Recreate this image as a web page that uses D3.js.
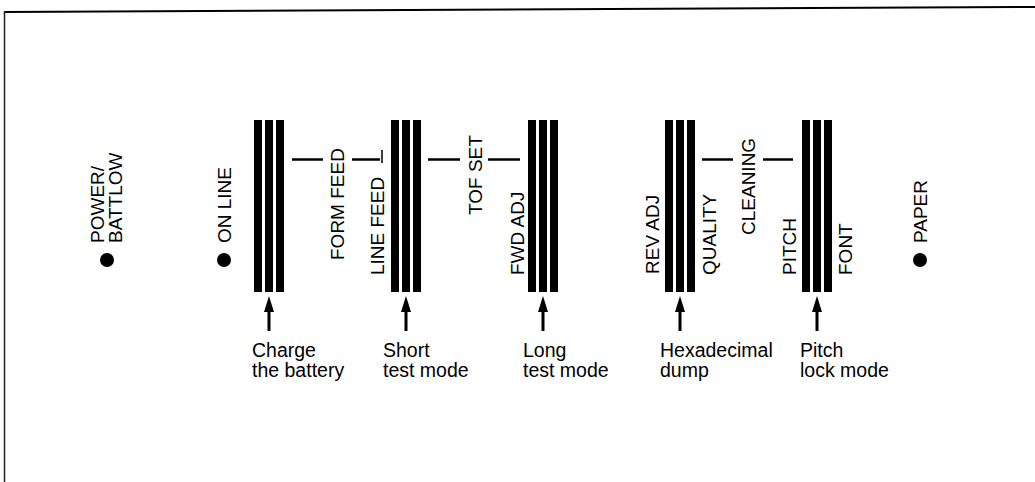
<!DOCTYPE html>
<html>
<head>
<meta charset="utf-8">
<script src="https://cdn.jsdelivr.net/npm/d3@7"></script>
<style>
  html, body { margin: 0; padding: 0; background: #fff; }
  svg { display: block; }
  text { font-family: "Liberation Sans", Arial, Helvetica, sans-serif; fill: #000; }
</style>
</head>
<body>
<svg id="chart" width="1035" height="482"></svg>
<script>
// ---- content ----
const indicatorLabels = [["POWER/", "BATTLOW"], ["ON LINE"], ["PAPER"]];
const switchGroups = ["g1", "g2", "g3", "g4", "g5"];
const functionLabels = ["FORM FEED", "LINE FEED", "TOF SET", "FWD ADJ", "REV ADJ", "QUALITY", "CLEANING", "PITCH", "FONT"];
const modeCaptions = [
  ["Charge", "the battery"],
  ["Short", "test mode"],
  ["Long", "test mode"],
  ["Hexadecimal", "dump"],
  ["Pitch", "lock mode"]
];
const barsPerGroup = [0, 1, 2];

// ---- layout (pixels) ----
const groupLeft = [254, 391, 528, 665, 802];
const indicatorX = [[97, 115], [224], [920]];
const indicatorDotX = [107, 224, 920];
const labelCX = [337, 377, 475, 517, 652, 709, 748, 789, 845];
const labelBottom = [260, 275, 215, 275, 274, 275, 235, 275, 275];
const dashes = [[292, 323], [352, 380], [428, 460], [488, 520], [702, 733], [763, 793]];
const captionX = [252, 383, 523, 660, 800];
const captionY = [357, 377];

const svg = d3.select("#chart");
const barW = 8, barGap = 3, barTop = 120, barBottom = 292;
const xBar = d3.scaleLinear().domain([0, 1]).range([0, barW + barGap]);
const fsV = 19, fsH = 19.5;

// frame
svg.append("line").attr("x1", 4).attr("y1", 12).attr("x2", 1035).attr("y2", 7)
  .attr("stroke", "#000").attr("stroke-width", 2);
svg.append("line").attr("x1", 4.5).attr("y1", 11).attr("x2", 4.5).attr("y2", 482)
  .attr("stroke", "#222").attr("stroke-width", 1.5);

// switch bar groups
const g = svg.selectAll("g.sw").data(switchGroups).join("g")
  .attr("class", "sw")
  .attr("transform", (d, i) => `translate(${groupLeft[i]},0)`);
g.selectAll("rect").data(barsPerGroup).join("rect")
  .attr("x", d => xBar(d)).attr("y", barTop)
  .attr("width", barW).attr("height", barBottom - barTop)
  .attr("fill", "#000");

// arrows
const arrowTip = 296, arrowBase = 312, arrowEnd = 331;
g.append("path")
  .attr("d", () => {
    const cx = (3 * barW + 2 * barGap) / 2;
    return `M${cx},${arrowTip} L${cx - 5},${arrowBase} L${cx - 1.5},${arrowBase} L${cx - 1.5},${arrowEnd} L${cx + 1.5},${arrowEnd} L${cx + 1.5},${arrowBase} L${cx + 5},${arrowBase} Z`;
  })
  .attr("fill", "#000");

// captions (one text element per line)
modeCaptions.forEach((lines, i) => {
  lines.forEach((line, k) => {
    svg.append("text")
      .attr("class", "cap")
      .attr("x", captionX[i]).attr("y", captionY[k])
      .attr("font-size", fsH)
      .text(line);
  });
});

// connector dashes
svg.selectAll("line.dash").data(dashes).join("line")
  .attr("class", "dash")
  .attr("x1", d => d[0]).attr("x2", d => d[1])
  .attr("y1", 159.5).attr("y2", 159.5)
  .attr("stroke", "#000").attr("stroke-width", 2.5);
// small tick after second dash
svg.append("line").attr("x1", 382).attr("x2", 382).attr("y1", 150).attr("y2", 163)
  .attr("stroke", "#000").attr("stroke-width", 1.5);

// rotated function labels
svg.selectAll("text.fn").data(functionLabels).join("text")
  .attr("class", "fn")
  .attr("font-size", fsV)
  .attr("transform", (d, i) => `translate(${labelCX[i]},${labelBottom[i]}) rotate(-90)`)
  .attr("dy", "0.36em")
  .text(d => d);

// indicators
indicatorLabels.forEach((lines, i) => {
  lines.forEach((line, k) => {
    svg.append("text")
      .attr("font-size", fsV)
      .attr("transform", `translate(${indicatorX[i][k]},243) rotate(-90)`)
      .attr("dy", "0.36em")
      .text(line);
  });
});
svg.selectAll("circle.led").data(indicatorDotX).join("circle")
  .attr("class", "led")
  .attr("cx", d => d).attr("cy", 260).attr("r", 7)
  .attr("fill", "#000");
</script>
</body>
</html>
